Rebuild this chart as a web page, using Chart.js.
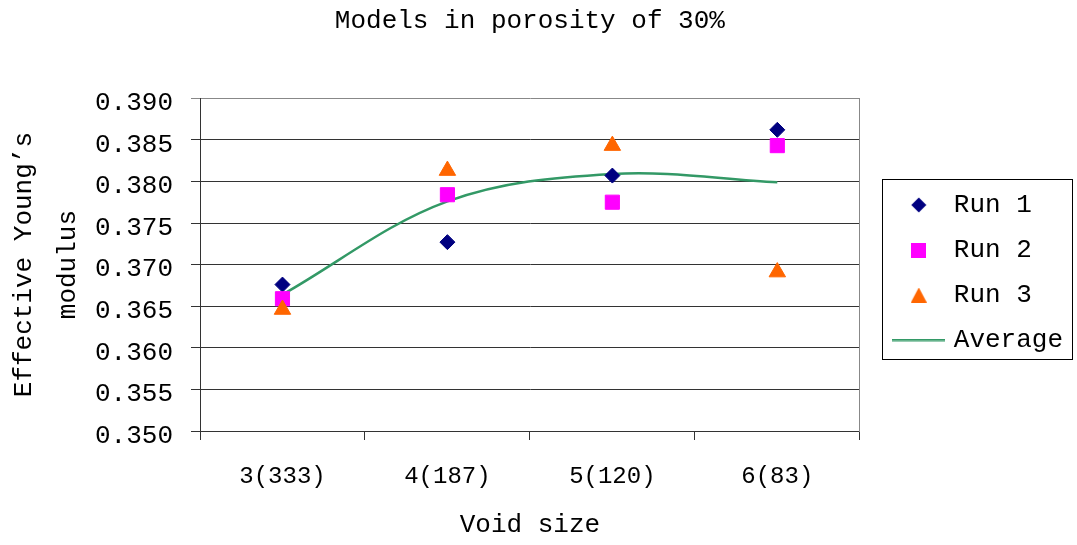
<!DOCTYPE html>
<html><head><meta charset="utf-8">
<script src="https://cdn.jsdelivr.net/npm/chart.js@4.4.1/dist/chart.umd.min.js"></script>
<style>html,body{margin:0;padding:0;background:#fff;}canvas{display:block;}</style>
</head><body>
<canvas id="c" width="1077" height="545"></canvas>
<script>
// ---- data ----
const categories = ['3(333)', '4(187)', '5(120)', '6(83)'];
const run1 = [0.3676, 0.3727, 0.3807, 0.3862];
const run2 = [0.3659, 0.3784, 0.3775, 0.3843];
const run3 = [0.3646, 0.3813, 0.3843, 0.3691];
const average = [0.3664, 0.3776, 0.3809, 0.3799];
const seriesNames = ['Run 1', 'Run 2', 'Run 3', 'Average'];
const yMin = 0.350, yMax = 0.390, yStep = 0.005;
const chartTitle = 'Models in porosity of 30%';
const xTitle = 'Void size';
const yTitle = ['Effective Young’s', 'modulus'];

// ---- styles ----
const FONT = "'Liberation Mono', 'DejaVu Sans Mono', monospace";
const colors = ['#000080', '#FF00FF', '#FF6600', '#339966'];

function icon(w, h, draw) {
  const c = document.createElement('canvas');
  c.width = w; c.height = h;
  draw(c.getContext('2d'), w, h);
  return c;
}
const legendIcons = [
  icon(16, 16, g => { g.fillStyle = colors[0]; g.beginPath(); g.moveTo(8, 0.5); g.lineTo(15.5, 8); g.lineTo(8, 15.5); g.lineTo(0.5, 8); g.closePath(); g.fill(); }),
  icon(15, 15, g => { g.fillStyle = colors[1]; g.fillRect(0, 0, 15, 15); }),
  icon(16, 15, g => { g.fillStyle = colors[2]; g.beginPath(); g.moveTo(8, 0); g.lineTo(16, 15); g.lineTo(0, 15); g.closePath(); g.fill(); }),
  icon(53, 3, g => { g.fillStyle = colors[3]; g.fillRect(0, 0, 53, 2.5); })
];

const legendBorder = {
  id: 'legendBorder',
  afterDraw(chart) {
    const lg = chart.legend;
    if (!lg || !lg.legendHitBoxes || !lg.legendHitBoxes.length) return;
    const hb = lg.legendHitBoxes;
    const top = Math.round(hb[0].top - 13) + 0.5;
    const last = hb[hb.length - 1];
    const bottom = Math.round(last.top + last.height + 6) + 0.5;
    const left = Math.round(lg.left + 4) + 0.5;
    const right = Math.round(lg.right - 1) + 0.5;
    const ctx = chart.ctx;
    ctx.save();
    ctx.strokeStyle = '#000';
    ctx.lineWidth = 1;
    ctx.strokeRect(left, top, right - left, bottom - top);
    ctx.restore();
  }
};

new Chart(document.getElementById('c'), {
  type: 'line',
  data: {
    labels: categories,
    datasets: [
      { label: seriesNames[0], data: run1, showLine: false, pointStyle: 'rectRot', pointRadius: 7.5,
        pointBackgroundColor: colors[0], pointBorderColor: colors[0], pointBorderWidth: 1, order: 3 },
      { label: seriesNames[1], data: run2, showLine: false, pointStyle: 'rect', pointRadius: 10,
        pointBackgroundColor: colors[1], pointBorderColor: colors[1], pointBorderWidth: 1, order: 2 },
      { label: seriesNames[2], data: run3, showLine: false, pointStyle: 'triangle', pointRadius: 9.5,
        pointBackgroundColor: colors[2], pointBorderColor: colors[2], pointBorderWidth: 1, order: 1 },
      { label: seriesNames[3], data: average, borderColor: colors[3], borderWidth: 2.5, pointRadius: 0,
        tension: 0.35, fill: false, order: 4 }
    ]
  },
  options: {
    responsive: false,
    devicePixelRatio: 1,
    animation: false,
    layout: { padding: { left: 0, top: 0, right: 4, bottom: 0 } },
    plugins: {
      tooltip: { enabled: false },
      title: {
        display: true, text: chartTitle, fullSize: false, color: '#000',
        font: { family: FONT, size: 26, weight: 'normal', lineHeight: 1.2 },
        padding: { top: 6, bottom: 61 }
      },
      legend: {
        display: true, position: 'right', align: 'center', fullSize: true, maxWidth: 300,
        labels: {
          font: { family: FONT, size: 26 }, color: '#000', padding: 19,
          usePointStyle: true, pointStyleWidth: 44, boxHeight: 26,
          generateLabels: (chart) => chart.data.datasets.map((ds, i) => ({
            text: ds.label, fillStyle: colors[i], strokeStyle: colors[i], lineWidth: 0,
            hidden: false, pointStyle: legendIcons[i], datasetIndex: i, fontColor: '#000'
          }))
        }
      }
    },
    scales: {
      x: {
        type: 'category', offset: true,
        grid: { offset: true, drawOnChartArea: false, drawTicks: true, tickLength: 9, color: '#333' },
        border: { display: true, color: '#333' },
        ticks: { font: { family: FONT, size: 24 }, color: '#000', padding: 22, maxRotation: 0 },
        title: { display: true, text: xTitle, color: '#000', font: { family: FONT, size: 26, lineHeight: 1.2 }, padding: { top: 0, bottom: 4 } },
        afterFit(s) { s.height = 114; }
      },
      y: {
        position: 'left', min: yMin, max: yMax,
        ticks: { stepSize: yStep, callback: v => Number(v).toFixed(3), font: { family: FONT, size: 26 }, color: '#000', padding: 18, labelOffset: 5 },
        grid: { tickLength: 9, lineWidth: 1, color: c => (c.tick && Math.abs(c.tick.value - yMax) < 1e-9) ? '#888' : '#333' },
        border: { display: true, color: '#333' },
        title: { display: true, text: yTitle, color: '#000', font: { family: FONT, size: 26, lineHeight: 1.7 }, padding: { top: 2, bottom: 0 } },
        afterFit(s) { s.width = 200; }
      },
      yRight: {
        position: 'right', min: yMin, max: yMax,
        grid: { drawOnChartArea: false, drawTicks: false },
        ticks: { display: false },
        border: { display: true, color: '#888' },
        afterFit(s) { s.width = 18; }
      }
    }
  },
  plugins: [legendBorder]
});
</script>
</body></html>
